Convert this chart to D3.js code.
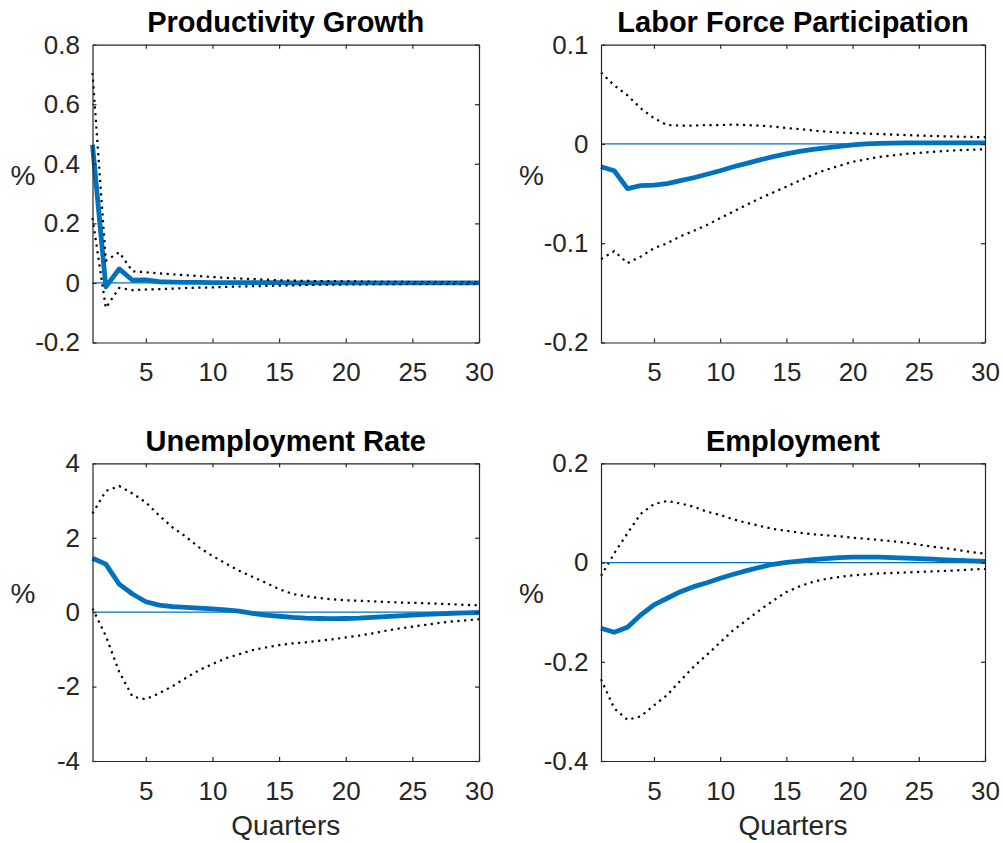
<!DOCTYPE html>
<html>
<head>
<meta charset="utf-8">
<script src="https://cdn.jsdelivr.net/npm/d3@7"></script>
<style>
  body { margin: 0; background: #fff; }
  text { font-family: "Liberation Sans", Arial, sans-serif; }
</style>
</head>
<body>
<svg id="chart"></svg>
<script>
// Impulse responses, 30 quarters: point estimate plus upper/lower bands
var quarters = d3.range(1, 31);
var xTicks = [5, 10, 15, 20, 25, 30];

var prodMean = [0.464, -0.013, 0.047, 0.009, 0.010, 0.004, 0.003, 0.002, 0.002, 0.001,
  0.001, 0.001, 0.001, 0.001, 0.001, 0.000, 0.000, 0.000, 0.000, 0.000,
  0.000, 0.000, 0.000, 0.000, 0.000, 0.000, 0.000, 0.000, 0.000, 0.000];
var prodUpper = [0.705, 0.075, 0.103, 0.039, 0.036, 0.032, 0.029, 0.026, 0.023, 0.020,
  0.017, 0.015, 0.013, 0.011, 0.009, 0.008, 0.007, 0.006, 0.006, 0.005,
  0.005, 0.004, 0.004, 0.004, 0.003, 0.003, 0.003, 0.003, 0.003, 0.003];
var prodLower = [0.218, -0.084, -0.017, -0.024, -0.022, -0.021, -0.019, -0.017, -0.016, -0.015,
  -0.013, -0.012, -0.011, -0.010, -0.009, -0.008, -0.007, -0.006, -0.006, -0.005,
  -0.005, -0.004, -0.004, -0.004, -0.003, -0.003, -0.003, -0.003, -0.003, -0.003];

var lfpMean = [-0.023, -0.027, -0.045, -0.042, -0.0415, -0.040, -0.037, -0.034, -0.0305, -0.027,
  -0.023, -0.0195, -0.016, -0.0128, -0.010, -0.0075, -0.0055, -0.004, -0.0025, -0.001,
  0.000, 0.0005, 0.0008, 0.001, 0.001, 0.001, 0.001, 0.001, 0.001, 0.001];
var lfpUpper = [0.072, 0.059, 0.049, 0.036, 0.026, 0.019, 0.0185, 0.0185, 0.019, 0.019,
  0.0195, 0.019, 0.0185, 0.0175, 0.016, 0.015, 0.0135, 0.0125, 0.0115, 0.011,
  0.0105, 0.010, 0.0095, 0.009, 0.0085, 0.008, 0.0077, 0.0074, 0.0071, 0.0068];
var lfpLower = [-0.116, -0.108, -0.120, -0.1135, -0.105, -0.100, -0.093, -0.0876, -0.0816, -0.0748,
  -0.068, -0.0614, -0.0547, -0.049, -0.043, -0.037, -0.031, -0.026, -0.022, -0.018,
  -0.0155, -0.013, -0.0115, -0.010, -0.009, -0.008, -0.007, -0.0063, -0.0058, -0.0053];

var unempMean = [1.45, 1.29, 0.755, 0.487, 0.28, 0.19, 0.147, 0.13, 0.11, 0.09,
  0.06, 0.03, -0.03, -0.08, -0.11, -0.14, -0.16, -0.17, -0.175, -0.17,
  -0.16, -0.14, -0.12, -0.10, -0.08, -0.06, -0.045, -0.03, -0.02, -0.01];
var unempUpper = [2.65, 3.255, 3.39, 3.19, 2.95, 2.60, 2.28, 2.03, 1.74, 1.51,
  1.31, 1.11, 0.95, 0.79, 0.62, 0.49, 0.43, 0.38, 0.345, 0.32,
  0.305, 0.29, 0.275, 0.26, 0.25, 0.24, 0.225, 0.21, 0.195, 0.183];
var unempLower = [0.10, -0.64, -1.60, -2.27, -2.34, -2.18, -1.99, -1.77, -1.56, -1.395,
  -1.24, -1.13, -1.02, -0.95, -0.885, -0.84, -0.81, -0.77, -0.73, -0.68,
  -0.63, -0.57, -0.50, -0.44, -0.39, -0.34, -0.29, -0.25, -0.22, -0.19];

var empMean = [-0.1325, -0.1405, -0.1305, -0.1057, -0.0855, -0.072, -0.0587, -0.0486, -0.0406, -0.0317,
  -0.0237, -0.0164, -0.0096, -0.0035, 0.0005, 0.003, 0.006, 0.008, 0.010, 0.011,
  0.011, 0.011, 0.010, 0.009, 0.008, 0.007, 0.0055, 0.0045, 0.0035, 0.0025];
var empUpper = [-0.027, 0.0186, 0.059, 0.098, 0.118, 0.124, 0.119, 0.1125, 0.1025, 0.096,
  0.087, 0.080, 0.0737, 0.0676, 0.064, 0.060, 0.057, 0.055, 0.053, 0.050,
  0.048, 0.0455, 0.043, 0.040, 0.036, 0.032, 0.029, 0.025, 0.021, 0.018];
var empLower = [-0.235, -0.294, -0.317, -0.31, -0.288, -0.267, -0.238, -0.21, -0.186, -0.161,
  -0.136, -0.116, -0.0956, -0.0769, -0.0593, -0.048, -0.039, -0.033, -0.029, -0.026,
  -0.024, -0.022, -0.021, -0.020, -0.019, -0.018, -0.017, -0.0155, -0.014, -0.013];

// Y tick values and their labels
var prodTicks = [-0.2, 0, 0.2, 0.4, 0.6, 0.8];
var prodTickLabels = ["-0.2", "0", "0.2", "0.4", "0.6", "0.8"];
var lfpTicks = [-0.2, -0.1, 0, 0.1];
var lfpTickLabels = ["-0.2", "-0.1", "0", "0.1"];
var unempTicks = [-4, -2, 0, 2, 4];
var unempTickLabels = ["-4", "-2", "0", "2", "4"];
var empTicks = [-0.4, -0.2, 0, 0.2];
var empTickLabels = ["-0.4", "-0.2", "0", "0.2"];

var width = 1003, height = 843;
var blue = "#0072BD", axisColor = "#262626";
var tickFont = 26, labelFont = 28, titleFont = 29;

var svg = d3.select("#chart").attr("width", width).attr("height", height);

var panels = [
  { title: "Productivity Growth", mean: prodMean, upper: prodUpper, lower: prodLower,
    domain: [-0.2, 0.8], ticks: prodTicks, labels: prodTickLabels,
    left: 92.5, right: 479, top: 44.7, bottom: 342.5, xlabel: false },
  { title: "Labor Force Participation", mean: lfpMean, upper: lfpUpper, lower: lfpLower,
    domain: [-0.2, 0.1], ticks: lfpTicks, labels: lfpTickLabels,
    left: 601, right: 985, top: 44.7, bottom: 342.5, xlabel: false },
  { title: "Unemployment Rate", mean: unempMean, upper: unempUpper, lower: unempLower,
    domain: [-4, 4], ticks: unempTicks, labels: unempTickLabels,
    left: 92.5, right: 479, top: 463.3, bottom: 761, xlabel: true },
  { title: "Employment", mean: empMean, upper: empUpper, lower: empLower,
    domain: [-0.4, 0.2], ticks: empTicks, labels: empTickLabels,
    left: 601, right: 985, top: 463.3, bottom: 761, xlabel: true }
];

panels.forEach(drawPanel);

function drawPanel(p) {
  var xScale = d3.scaleLinear().domain([1, 30]).range([p.left, p.right]);
  var yScale = d3.scaleLinear().domain(p.domain).range([p.bottom, p.top]);
  var g = svg.append("g");

  var line = d3.line()
    .x(function(d, i) { return xScale(quarters[i]); })
    .y(function(d) { return yScale(d); });

  // Point estimate
  g.append("path")
    .attr("d", line(p.mean))
    .attr("fill", "none")
    .attr("stroke", blue)
    .attr("stroke-width", 4.8)
    .attr("stroke-linejoin", "round");

  // Confidence bands, dotted
  [p.upper, p.lower].forEach(function(band) {
    g.append("path")
      .attr("d", line(band))
      .attr("fill", "none")
      .attr("stroke", "#000")
      .attr("stroke-width", 2.2)
      .attr("stroke-dasharray", "2.2,4.5");
  });

  // Zero line
  g.append("path")
    .attr("d", line(quarters.map(function() { return 0; })))
    .attr("fill", "none")
    .attr("stroke", blue)
    .attr("stroke-width", 1.2);

  // Axes with inward ticks on all four sides
  var fmt = function(d) { return p.labels[p.ticks.indexOf(d)]; };
  var bottomAxis = g.append("g")
    .attr("transform", "translate(0," + p.bottom + ")")
    .call(d3.axisBottom(xScale).tickValues(xTicks).tickSizeInner(-4).tickSizeOuter(0)
      .tickPadding(20.5).tickFormat(d3.format("d")));
  var topAxis = g.append("g")
    .attr("transform", "translate(0," + p.top + ")")
    .call(d3.axisTop(xScale).tickValues(xTicks).tickSizeInner(-4).tickSizeOuter(0).tickFormat(""));
  var leftAxis = g.append("g")
    .attr("transform", "translate(" + p.left + ",0)")
    .call(d3.axisLeft(yScale).tickValues(p.ticks).tickSizeInner(-4).tickSizeOuter(0)
      .tickPadding(12.5).tickFormat(fmt));
  var rightAxis = g.append("g")
    .attr("transform", "translate(" + p.right + ",0)")
    .call(d3.axisRight(yScale).tickValues(p.ticks).tickSizeInner(-4).tickSizeOuter(0).tickFormat(""));

  [bottomAxis, topAxis, leftAxis, rightAxis].forEach(function(a) {
    a.selectAll("path, line").attr("stroke", axisColor).attr("stroke-width", 1.2);
    a.selectAll("text")
      .attr("fill", axisColor)
      .style("font-size", tickFont + "px")
      .style("font-family", '"Liberation Sans", Arial, sans-serif');
  });

  // Title
  g.append("text")
    .attr("x", (p.left + p.right) / 2)
    .attr("y", p.top - 12.7)
    .attr("text-anchor", "middle")
    .style("font-size", titleFont + "px")
    .style("font-weight", "bold")
    .attr("fill", "#000")
    .text(p.title);

  // Y label, horizontal
  g.append("text")
    .attr("x", p.left - 69.5)
    .attr("y", (p.top + p.bottom) / 2 - 9)
    .attr("text-anchor", "middle")
    .style("font-size", labelFont + "px")
    .attr("fill", axisColor)
    .text("%");

  if (p.xlabel) {
    g.append("text")
      .attr("x", (p.left + p.right) / 2)
      .attr("y", p.bottom + 74)
      .attr("text-anchor", "middle")
      .style("font-size", labelFont + "px")
      .attr("fill", axisColor)
      .text("Quarters");
  }
}
</script>
</body>
</html>
